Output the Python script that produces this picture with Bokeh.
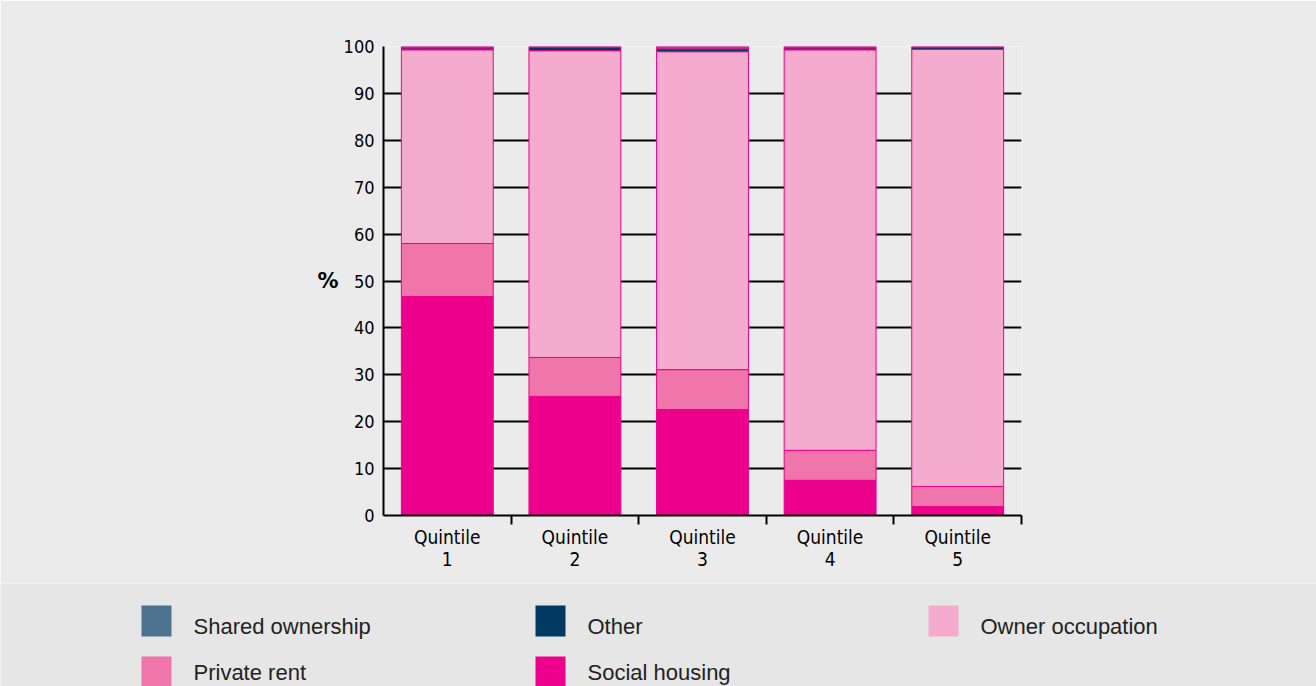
import numpy as np
from bokeh.plotting import figure
from bokeh.models import ColumnDataSource, Range1d, FixedTicker, LinearAxis
from bokeh.embed import file_html
from bokeh.resources import INLINE
from bokeh.core.properties import value

# ---- data ----
categories = ["Quintile\n1", "Quintile\n2", "Quintile\n3", "Quintile\n4", "Quintile\n5"]
series_names = ["Social housing", "Private rent", "Owner occupation", "Other", "Shared ownership"]
social_housing = [46.7, 25.4, 22.6, 7.5, 1.9]
private_rent = [11.3, 8.3, 8.5, 6.4, 4.3]
owner_occupation = [41.3, 65.4, 67.8, 85.4, 93.2]
other = [0.4, 0.7, 0.6, 0.4, 0.4]
shared_ownership = [0.3, 0.2, 0.5, 0.3, 0.2]
y_ticks = [0, 10, 20, 30, 40, 50, 60, 70, 80, 90, 100]
legend_order = ["Shared ownership", "Other", "Owner occupation", "Private rent", "Social housing"]

colors = ["#ec008c", "#f075aa", "#f5abcd", "#003a63", "#4e7391"]
PANEL = "#ebebeb"
OUTER = "#e5e6e5"
TICK_FONT = "DejaVu Sans Condensed"

xs = np.arange(len(categories)) + 0.5
keys = ["social", "private", "owner", "other", "shared"]
source = ColumnDataSource(dict(x=xs, social=social_housing, private=private_rent,
                               owner=owner_occupation, other=other, shared=shared_ownership))

W = 1316
p = figure(width=W, height=583, output_backend="svg", toolbar_location=None,
           x_range=Range1d(0, len(categories)), y_range=Range1d(0, 100),
           min_border_left=383, min_border_right=295, min_border_top=46, min_border_bottom=68)
p.background_fill_color = PANEL
p.border_fill_color = PANEL
p.outline_line_color = None

p.vbar_stack(keys, x="x", width=0.72, color=colors, source=source,
             line_color="#ec008c", line_width=1)

# y axis
p.yaxis.ticker = FixedTicker(ticks=y_ticks)
p.yaxis.axis_line_color = "black"
p.yaxis.axis_line_width = 2
p.yaxis.major_tick_line_color = None
p.yaxis.major_tick_out = 0
p.yaxis.minor_tick_line_color = None
p.yaxis.major_label_text_font = TICK_FONT
p.yaxis.major_label_text_font_size = "18px"
p.yaxis.major_label_text_color = "black"
p.yaxis.major_label_standoff = 9

# "%" unit label as an extra left axis with one tick at the middle
pct_axis = LinearAxis(ticker=FixedTicker(ticks=[50]), major_label_overrides={50: "%"},
                      axis_line_color=None, major_tick_line_color=None,
                      minor_tick_line_color=None, major_tick_out=0, major_tick_in=0,
                      major_label_standoff=2, major_label_text_font="DejaVu Sans",
                      major_label_text_font_style="bold", major_label_text_font_size="21px",
                      major_label_text_color="black")
p.add_layout(pct_axis, "left")

# x axis
p.xaxis.ticker = FixedTicker(ticks=list(xs), minor_ticks=list(range(1, len(categories) + 1)))
p.xaxis.major_label_overrides = {float(x): c for x, c in zip(xs, categories)}
p.xaxis.axis_line_color = "black"
p.xaxis.axis_line_width = 2
p.xaxis.major_tick_line_color = None
p.xaxis.major_tick_out = 0
p.xaxis.major_tick_in = 0
p.xaxis.minor_tick_line_color = "black"
p.xaxis.minor_tick_line_width = 2
p.xaxis.minor_tick_out = 9
p.xaxis.minor_tick_in = 0
p.xaxis.major_label_text_font = TICK_FONT
p.xaxis.major_label_text_font_size = "19px"
p.xaxis.major_label_text_line_height = 1.0
p.xaxis.major_label_text_color = "black"
p.xaxis.major_label_standoff = 1

p.xgrid.grid_line_color = None
p.ygrid.ticker = FixedTicker(ticks=y_ticks)
p.ygrid.grid_line_color = "black"
p.ygrid.grid_line_width = 2

# ---- legend panel (separate root so its frame spans the whole width) ----
LH = 103
leg = figure(width=W, height=LH, output_backend="svg", toolbar_location=None,
             x_range=Range1d(0, W), y_range=Range1d(LH, 0),
             min_border=0, min_border_left=0, min_border_right=0,
             min_border_top=0, min_border_bottom=0)
leg.axis.visible = False
leg.grid.visible = False
leg.outline_line_color = None
leg.background_fill_color = OUTER
leg.border_fill_color = OUTER

col_x = [141, 535, 928]
row_top = [22, 73]
row_text = [42.5, 88.5]
sw_x, sw_y, sw_c, tx, ty, tt = [], [], [], [], [], []
for i, name in enumerate(legend_order):
    cx = col_x[i % 3]
    r = i // 3
    sw_x.append(cx + 15)
    sw_y.append(row_top[r] + 15.5)
    sw_c.append(colors[series_names.index(name)])
    tx.append(cx + 52)
    ty.append(row_text[r])
    tt.append(name)

leg.rect(x=sw_x, y=sw_y, width=30, height=31, fill_color=sw_c, line_color=None)
leg.text(x=tx, y=ty, text=tt, text_font=value("Liberation Sans"),
         text_font_size="22px", text_baseline="middle", text_color="#222222")

html = file_html([p, leg], INLINE)
html = html.replace("<body>", '<body style="background:#e5e6e5">', 1)
open("out.html", "w").write(html)
